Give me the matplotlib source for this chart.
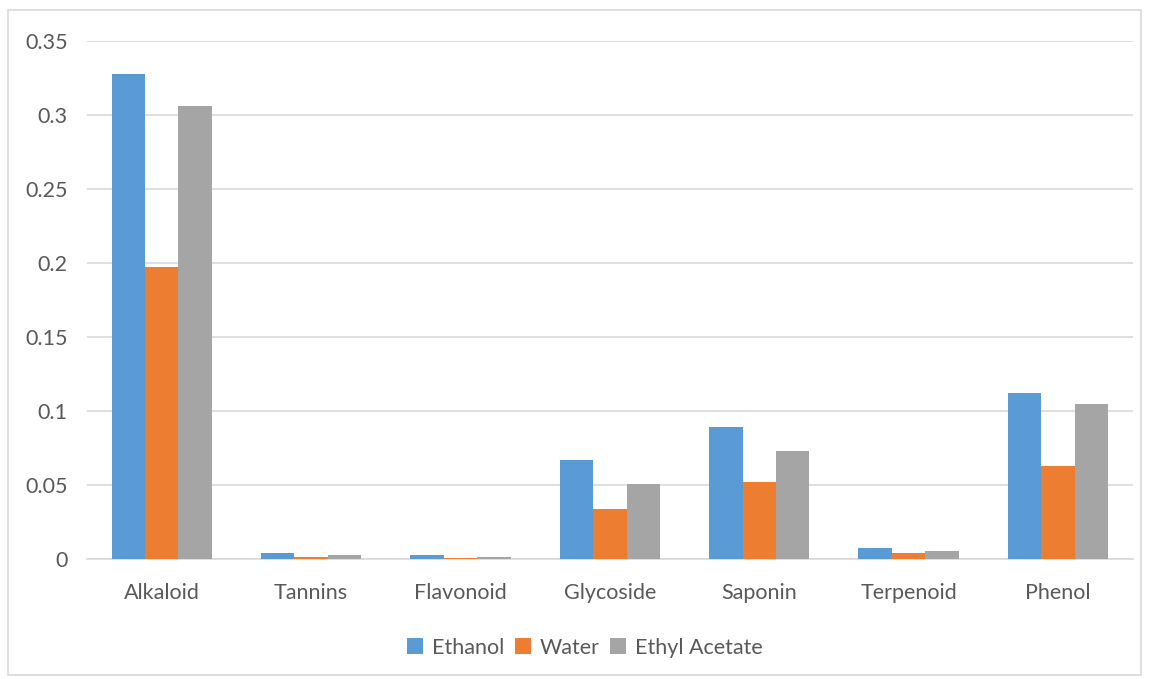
import numpy as np
import matplotlib.pyplot as plt
from matplotlib.patches import Rectangle

categories = ["Alkaloid", "Tannins", "Flavonoid", "Glycoside", "Saponin", "Terpenoid", "Phenol"]
ethanol = [0.328, 0.004, 0.0025, 0.067, 0.089, 0.0072, 0.112]
water = [0.197, 0.0015, 0.0005, 0.034, 0.052, 0.004, 0.063]
ethyl_acetate = [0.306, 0.003, 0.0015, 0.051, 0.073, 0.0056, 0.105]
yticks = [0, 0.05, 0.1, 0.15, 0.2, 0.25, 0.3, 0.35]
ytick_labels = ["0", "0.05", "0.1", "0.15", "0.2", "0.25", "0.3", "0.35"]

plt.rcParams['font.family'] = ['Lato', 'DejaVu Sans']
text_color = "#595959"

fig = plt.figure(figsize=(11.5, 6.79), dpi=100)
ax = fig.add_axes([0.0757, 0.1767, 0.9093, 0.7629])

# outer chart border
fig.patches.append(Rectangle((0.007, 0.006), 0.985, 0.98, transform=fig.transFigure,
                             fill=False, edgecolor="#d9d9d9", linewidth=1.2))

x = np.arange(len(categories))
w = 0.224
ax.bar(x - w, ethanol, w, color="#5B9BD5", label="Ethanol", zorder=3)
ax.bar(x, water, w, color="#ED7D31", label="Water", zorder=3)
ax.bar(x + w, ethyl_acetate, w, color="#A5A5A5", label="Ethyl Acetate", zorder=3)

ax.set_xlim(-0.5, len(categories) - 0.5)
ax.set_ylim(0, 0.35)
ax.set_yticks(yticks)
ax.set_yticklabels(ytick_labels)
ax.set_xticks(x)
ax.set_xticklabels(categories)
ax.grid(axis="y", color="#d9d9d9", linewidth=1.2, zorder=0)
for s in ["top", "right", "left"]:
    ax.spines[s].set_visible(False)
ax.spines["bottom"].set_color("#d9d9d9")
ax.spines["bottom"].set_linewidth(1.2)
ax.tick_params(length=0, labelsize=15.5, colors=text_color)
ax.tick_params(axis="x", pad=17)
ax.tick_params(axis="y", pad=14)

ax.legend(loc="center", bbox_to_anchor=(0.476, -0.171), ncol=3, frameon=False,
          fontsize=15.5, labelcolor=text_color, handlelength=0.75, handleheight=0.75,
          handletextpad=0.4, columnspacing=0.5)

fig.savefig("out.png", dpi=100, facecolor="white")
